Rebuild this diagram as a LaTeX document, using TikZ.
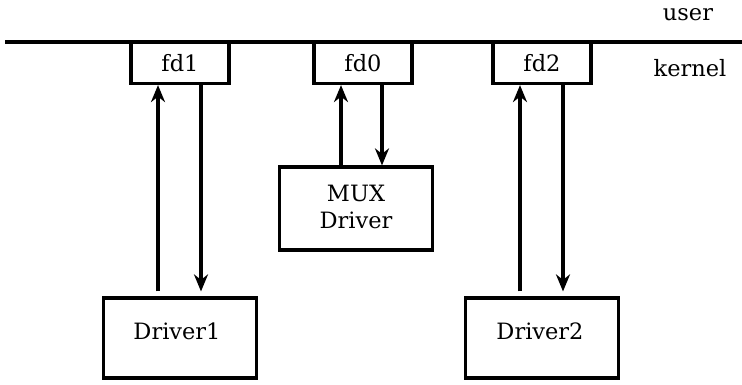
\documentclass[tikz,border=0pt]{standalone}
\usepackage{fontspec}
\setmainfont{DejaVu Serif}
\usetikzlibrary{arrows.meta}
\begin{document}
\begin{tikzpicture}[x=1pt,y=-1pt,
  every node/.style={font=\fontsize{22.5}{28}\selectfont},
  fdbox/.style={draw,line width=3.2pt,minimum width=98pt,minimum height=41pt,inner sep=0pt},
  drvbox/.style={draw,line width=3.2pt,minimum width=153pt,minimum height=80pt,inner sep=0pt},
  flow/.style={line width=3.2pt,-{Stealth[length=17pt,width=14pt,inset=5.5pt]}},
  label/.style={inner sep=0pt}]
\useasboundingbox (0,0) rectangle (742,384);
% user/kernel boundary
\coordinate (lineL) at (5,42);
\coordinate (lineR) at (742,42);
\draw[line width=3.6pt] (lineL) -- (lineR);
\node[label] (user) at (688,15) {user};
\node[label] (kernel) at (690,68) {kernel};
% file descriptors
\node[fdbox] (fd1) at (180,63) {fd1};
\node[fdbox] (fd0) at (363,63) {fd0};
\node[fdbox] (fd2) at (542,63) {fd2};
% drivers
\node[drvbox] (drv1) at (180,338) {};
\node[label] (drv1t) at (177,331) {Driver1};
\node[drvbox,minimum height=83pt] (mux) at (356,208.5) {};
\node[label,align=center] (muxt) at (356,207) {MUX\\[-1pt]Driver};
\node[drvbox] (drv2) at (542,338) {};
\node[label] (drv2t) at (540,331) {Driver2};
% streams
\draw[flow,shorten <=5pt] (drv1.north -| 158,0) -- (fd1.south -| 158,0);
\draw[flow,shorten >=5pt] (fd1.south -| 201,0) -- (drv1.north -| 201,0);
\draw[flow] (mux.north -| 341,0) -- (fd0.south -| 341,0);
\draw[flow] (fd0.south -| 382,0) -- (mux.north -| 382,0);
\draw[flow,shorten <=5pt] (drv2.north -| 520,0) -- (fd2.south -| 520,0);
\draw[flow,shorten >=5pt] (fd2.south -| 563,0) -- (drv2.north -| 563,0);
\end{tikzpicture}
\end{document}
